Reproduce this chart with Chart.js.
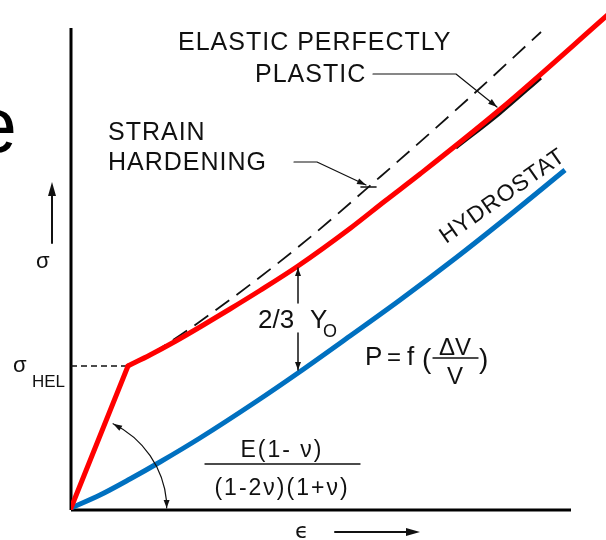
<!DOCTYPE html>
<html>
<head>
<meta charset="utf-8">
<script src="https://cdn.jsdelivr.net/npm/chart.js@4.4.0/dist/chart.umd.min.js"></script>
<style>
  html, body { margin: 0; padding: 0; background: #fff; }
</style>
</head>
<body>
<canvas id="shockChart" width="606" height="540"></canvas>
<script>
// strain (x) and stress (y), arbitrary units
var hydroEps   = [0, 0.58, 1.18, 1.78, 2.58, 3.72, 4.54, 5.58, 6.58, 7.72, 8.58, 9.88];
var hydroSigma = [0.04, 0.30, 0.62, 0.96, 1.44, 2.18, 2.74, 3.48, 4.20, 5.06, 5.74, 6.80];

var elasticEps   = [0, 1.14];
var elasticSigma = [0.04, 2.88];

var hardenEps   = [1.14, 1.58, 2.08, 2.58, 3.18, 3.78, 4.54, 5.58, 6.28, 6.98, 8.58, 10.8];
var hardenSigma = [2.88, 3.10, 3.37, 3.66, 4.02, 4.39, 4.88, 5.63, 6.18, 6.72, 8.01, 9.96];

// the printed black curve that shows under the red one
var printedEps   = [7.7, 8.58, 9.4];
var printedSigma = [7.24, 7.93, 8.64];

var perfectEps   = [1.14, 1.68, 2.58, 4.52, 6.18, 7.92, 9.40];
var perfectSigma = [2.88, 3.17, 3.77, 5.24, 6.66, 8.20, 9.56];

var sigmaHEL = 2.88;
var epsAxisEnd = 10.0;
var sigmaAxisEnd = 9.64;

var RED = '#ff0000';
var BLUE = '#0070c0';
var INK = '#111111';
var FONT = '"Liberation Sans", "DejaVu Sans", Arial, sans-serif';

function pts(xs, ys) {
    return xs.map(function(x, i) { return { x: x, y: ys[i] }; });
}

function arrowHead(ctx, fx, fy, tx, ty, len, wid) {
    var a = Math.atan2(ty - fy, tx - fx);
    ctx.beginPath();
    ctx.moveTo(tx, ty);
    ctx.lineTo(tx - len * Math.cos(a) + wid / 2 * Math.sin(a), ty - len * Math.sin(a) - wid / 2 * Math.cos(a));
    ctx.lineTo(tx - len * Math.cos(a) - wid / 2 * Math.sin(a), ty - len * Math.sin(a) + wid / 2 * Math.cos(a));
    ctx.closePath();
    ctx.fill();
}

var labelsPlugin = {
    id: 'sketchLabels',
    afterDatasetsDraw: function(chart) {
        var ctx = chart.ctx, xs = chart.scales.x, ys = chart.scales.y;
        function X(v) { return xs.getPixelForValue(v); }
        function Y(v) { return ys.getPixelForValue(v); }
        function text(str, x, y, size, align) {
            ctx.font = size + 'px ' + FONT;
            ctx.textAlign = align || 'left';
            ctx.textBaseline = 'alphabetic';
            ctx.fillText(str, X(x), Y(y));
        }
        function poly(list, w) {
            ctx.lineWidth = w;
            ctx.beginPath();
            list.forEach(function(p, i) {
                if (i === 0) ctx.moveTo(X(p[0]), Y(p[1])); else ctx.lineTo(X(p[0]), Y(p[1]));
            });
            ctx.stroke();
        }
        function leader(list, w, len, wid) {
            poly(list, w);
            var a = list[list.length - 2], b = list[list.length - 1];
            arrowHead(ctx, X(a[0]), Y(a[1]), X(b[0]), Y(b[1]), len, wid);
        }

        ctx.save();
        ctx.fillStyle = INK;
        ctx.strokeStyle = INK;
        ctx.lineCap = 'round';
        ctx.lineJoin = 'round';

        // big letter cut by the left edge
        ctx.fillStyle = '#000';
        text('e', -1.94, 7.16, 77);
        ctx.fillStyle = INK;

        ctx.letterSpacing = '1px';
        text('ELASTIC PERFECTLY', 2.14, 9.2, 25);
        text('PLASTIC', 3.68, 8.56, 25);
        text('STRAIN', 0.74, 7.4, 25);
        text('HARDENING', 0.74, 6.8, 25);

        leader([[6.04, 8.72], [7.70, 8.72], [8.52, 8.06]], 1.2, 9, 6);
        leader([[4.46, 6.96], [4.92, 6.96], [5.90, 6.50]], 1.2, 9, 6);
        poly([[5.80, 6.46], [6.10, 6.46]], 1.6);

        // hydrostat label along the blue curve
        ctx.save();
        ctx.translate(X(7.5), Y(5.32));
        ctx.rotate(-35 * Math.PI / 180);
        ctx.font = '23px ' + FONT;
        ctx.textAlign = 'left';
        ctx.fillText('HYDROSTAT', 0, 0);
        ctx.restore();
        ctx.letterSpacing = '0px';

        // 2/3 Yo gap between the red and blue curves
        var gx = hardenEps[6];
        poly([[gx, hardenSigma[6] - 0.04], [gx, 4.14]], 1.5);
        poly([[gx, 3.54], [gx, hydroSigma[6] + 0.06]], 1.5);
        arrowHead(ctx, X(gx), Y(4.3), X(gx), Y(hardenSigma[6] - 0.04), 8, 6);
        arrowHead(ctx, X(gx), Y(3.4), X(gx), Y(hydroSigma[6] + 0.06), 8, 6);
        text('2/3', 3.74, 3.64, 26);
        text('Y', 4.78, 3.64, 26);
        text('O', 5.04, 3.46, 18);

        // P = f(dV/V)
        text('P', 5.88, 2.9, 26);
        text('=', 6.32, 2.9, 24);
        text('f', 6.72, 2.9, 26);
        text('(', 7.02, 2.84, 28);
        text('\u0394V', 7.68, 3.1, 24, 'center');
        poly([[7.24, 3.04], [8.14, 3.04]], 1.4);
        text('V', 7.68, 2.52, 24, 'center');
        text(')', 8.16, 2.84, 28);

        // elastic slope
        ctx.letterSpacing = '2px';
        text('E(1- \u03bd)', 4.22, 1.06, 23, 'center');
        poly([[2.68, 0.92], [5.78, 0.92]], 1.4);
        text('(1-2\u03bd)(1+\u03bd)', 4.22, 0.30, 23, 'center');
        ctx.letterSpacing = '0px';

        var ox = X(0), oy = Y(0), r = X(1.92) - X(0);
        var a0 = -64 * Math.PI / 180, a1 = -5 * Math.PI / 180;
        ctx.lineWidth = 1.2;
        ctx.beginPath();
        ctx.arc(ox, oy, r, a0, a1);
        ctx.stroke();
        var ex = ox + r * Math.cos(a1), ey = oy + r * Math.sin(a1);
        ctx.beginPath();
        ctx.moveTo(ex, ey);
        ctx.lineTo(ex, oy - 2);
        ctx.stroke();
        arrowHead(ctx, ex, ey - 6, ex, oy - 2, 8, 6);
        var sx = ox + r * Math.cos(a0), sy = oy + r * Math.sin(a0);
        arrowHead(ctx, ox + r * Math.cos(a0 + 0.15), oy + r * Math.sin(a0 + 0.15), sx, sy, 9, 6);

        // axis labels
        text('\u03c3', -1.16, 2.76, 22);
        text('HEL', -0.78, 2.46, 17);
        text('\u03c3', -0.7, 4.84, 22);
        poly([[-0.38, 5.34], [-0.38, 6.3]], 2);
        arrowHead(ctx, X(-0.38), Y(6.0), X(-0.38), Y(6.56), 14, 8);
        ctx.font = '22px "DejaVu Sans", sans-serif';
        ctx.textAlign = 'left';
        ctx.fillText('\u03f5', X(4.48), Y(-0.56));
        poly([[5.28, -0.44], [6.7, -0.44]], 2);
        arrowHead(ctx, X(6.4), Y(-0.44), X(6.98), Y(-0.44), 14, 8);

        ctx.restore();
    }
};

new Chart(document.getElementById('shockChart'), {
    type: 'scatter',
    data: {
        datasets: [
            {
                label: 'Elastic',
                data: pts(elasticEps, elasticSigma),
                borderColor: RED,
                borderWidth: 5,
                borderCapStyle: 'round',
                tension: 0
            },
            {
                label: 'Strain hardening',
                data: pts(hardenEps, hardenSigma),
                borderColor: RED,
                borderWidth: 5,
                borderCapStyle: 'round',
                cubicInterpolationMode: 'monotone'
            },
            {
                label: 'Printed curve',
                data: pts(printedEps, printedSigma),
                borderColor: INK,
                borderWidth: 3,
                cubicInterpolationMode: 'monotone'
            },
            {
                label: 'Hydrostat',
                data: pts(hydroEps, hydroSigma),
                borderColor: BLUE,
                borderWidth: 5,
                cubicInterpolationMode: 'monotone'
            },
            {
                label: 'Elastic perfectly plastic',
                data: pts(perfectEps, perfectSigma),
                borderColor: INK,
                borderWidth: 1.8,
                borderDash: [17, 9],
                cubicInterpolationMode: 'monotone'
            },
            {
                label: 'HEL',
                data: pts([0, elasticEps[1]], [sigmaHEL, sigmaHEL]),
                borderColor: INK,
                borderWidth: 1.6,
                borderDash: [6, 4],
                clip: false
            },
            {
                label: 'sigma axis',
                data: pts([0, 0], [0, sigmaAxisEnd]),
                borderColor: '#000',
                borderWidth: 3,
                clip: false
            },
            {
                label: 'eps axis',
                data: pts([0, epsAxisEnd], [0, 0]),
                borderColor: '#000',
                borderWidth: 3,
                clip: false
            }
        ]
    },
    options: {
        responsive: false,
        animation: false,
        showLine: true,
        layout: { padding: { left: 71, right: 0, top: 0, bottom: 30 } },
        elements: { point: { radius: 0, hoverRadius: 0 } },
        scales: {
            x: { type: 'linear', display: false, min: 0, max: 10.7 },
            y: { type: 'linear', display: false, min: 0, max: 10.2 }
        },
        plugins: {
            legend: { display: false },
            tooltip: { enabled: false }
        }
    },
    plugins: [labelsPlugin]
});
</script>
</body>
</html>
